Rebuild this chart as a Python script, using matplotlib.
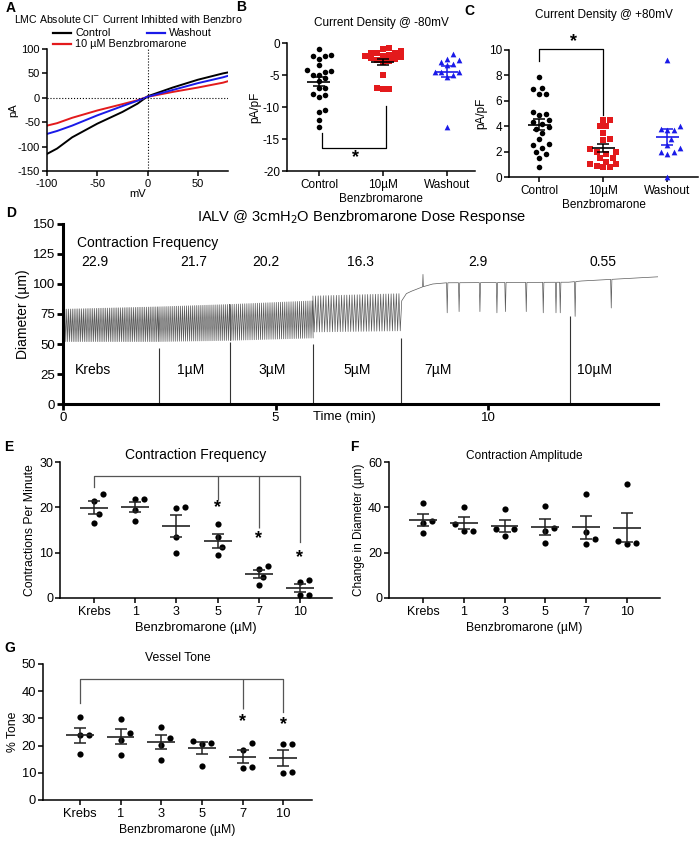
import numpy as np
import matplotlib
matplotlib.use('Agg')
import matplotlib.pyplot as plt
from matplotlib.lines import Line2D

plt.rcParams['font.family'] = ['Liberation Sans', 'DejaVu Sans']
plt.rcParams['axes.unicode_minus'] = False
plt.rcParams['axes.linewidth'] = 1.1
plt.rcParams['xtick.major.width'] = 1.1
plt.rcParams['ytick.major.width'] = 1.1
plt.rcParams['xtick.major.size'] = 3.5
plt.rcParams['ytick.major.size'] = 3.5
plt.rcParams['xtick.major.pad'] = 2
plt.rcParams['ytick.major.pad'] = 1.5

W, H = 699, 842
RED = '#e31a1c'
BLUE = '#1a1ae8'

# ---------------- data ----------------
# A: I-V relationship
iv_mv = [-100, -90, -75, -50, -25, -10, 0, 25, 50, 75, 80]
iv_control = [-115, -104, -81, -53, -29, -12, 3, 21, 37, 50, 52]
iv_washout = [-74, -68, -57, -36, -17, -6, 2, 16, 30, 42, 45]
iv_benz = [-57, -52, -41, -26, -13, -5, 2, 12, 21, 31, 34]

# B / C: current density groups
groups_bc = ['Control', '10µM', 'Washout']
cd80_neg_control = [-1.0, -2.0, -2.0, -1.8, -2.5, -3.5, -4.2, -4.3, -4.5, -5.0, -5.0,
                    -5.5, -6.0, -7.0, -7.0, -8.0, -8.2, -8.5, -10.5, -10.8, -12.0, -13.2]
cd80_neg_benz = [-0.8, -1.0, -1.2, -1.5, -1.5, -1.8, -2.0, -2.0, -2.2, -2.5, -2.3,
                 -1.6, -2.8, -3.0, -2.7, -5.0, -7.0, -7.2, -7.2]
cd80_neg_wash = [-1.7, -2.5, -2.7, -3.0, -3.3, -3.5, -4.5, -4.5, -4.5, -5.0, -5.3, -13.2]
cd80_pos_control = [7.85, 7.0, 6.9, 6.5, 6.5, 5.1, 5.0, 4.9, 4.5, 4.3, 4.2, 3.9,
                    3.8, 3.5, 3.0, 2.6, 2.5, 2.3, 2.0, 1.8, 1.5, 0.8]
cd80_pos_benz = [4.5, 4.5, 4.0, 4.0, 3.5, 3.0, 2.9, 2.2, 2.0, 2.0, 1.8, 1.5,
                 1.5, 1.2, 1.0, 1.0, 0.9, 0.8, 0.8]
cd80_pos_wash = [9.2, 4.0, 3.8, 3.7, 3.7, 3.0, 2.5, 2.3, 2.0, 2.0, 1.8, 0.0]

# D: diameter trace
seg_start = [0.0, 2.26, 3.93, 5.88]
seg_end = [2.26, 3.93, 5.88, 7.95]
seg_top = [(79, 81), (81, 83), (83, 86), (90, 92)]
seg_bottom = [(52, 52), (52, 53), (53, 55), (60, 61)]
freq_values = [22.9, 21.7, 20.2, 16.3, 2.9, 0.55]
freq_label_t = [0.75, 3.08, 4.77, 7.0, 9.76, 12.7]
base_t = [7.97, 8.08, 8.2, 8.45, 8.7, 9.0, 11.9, 12.2, 14.0]
base_y = [86, 92, 94, 97.5, 100, 101, 101.5, 102.5, 106]
dip_t = [9.04, 9.32, 9.81, 10.21, 10.41, 10.9, 11.3, 11.6, 11.7, 12.05, 12.9]
dip_y = [76, 77, 77, 76, 77, 77, 76, 76, 76, 73, 80]
dose_labels = ['Krebs', '1µM', '3µM', '5µM', '7µM', '10µM']
dose_label_t = [0.28, 2.68, 4.6, 6.6, 8.5, 12.1]
dose_t = [2.26, 3.93, 5.88, 7.95, 11.93]
dose_line_top = [47, 52, 50, 55, 73]

# E / F / G: dose response
doses = ['Krebs', '1', '3', '5', '7', '10']
freq = [[22.9, 21.5, 18.5, 16.6], [21.8, 21.8, 19.5, 17.0], [19.8, 20.1, 13.5, 10.0],
        [16.3, 13.5, 11.2, 9.4], [7.1, 6.5, 4.7, 2.9], [4.0, 3.6, 0.7, 0.7]]
ampl = [[42.0, 34.0, 33.3, 28.7], [40.3, 32.6, 29.6, 29.6], [39.3, 30.4, 30.4, 27.3],
        [40.7, 31.1, 29.6, 24.3], [45.8, 28.9, 26.2, 23.7], [50.2, 25.2, 24.0, 24.4]]
tone = [[30.6, 23.9, 23.9, 16.9], [29.7, 24.8, 22.0, 16.4], [27.0, 22.7, 20.2, 14.7],
        [21.1, 20.5, 21.8, 12.6], [21.1, 18.4, 11.9, 12.3], [20.6, 20.6, 9.8, 10.4]]

fig = plt.figure(figsize=(W / 100, H / 100), dpi=100)


def add_ax(l, t, r, b):
    ax = fig.add_axes([l / W, 1 - b / H, (r - l) / W, (b - t) / H])
    ax.spines['top'].set_visible(False)
    ax.spines['right'].set_visible(False)
    return ax


def swarm_x(vals, xc, xpx, ypx, diam, max_off=18):
    # simple beeswarm in pixel space, offsets limited to +-max_off px
    xs = np.full(len(vals), float(xc))
    placed = []
    cands = [0.0]
    k = 1
    while k * diam / 2 <= max_off:
        cands += [k * diam / 2, -k * diam / 2]
        k += 1
    for i in np.argsort(vals):
        y = vals[i] * ypx
        best, best_d = 0.0, -1
        for c in cands:
            d = min([np.hypot(c - px, y - py) for px, py in placed] or [1e9])
            if d >= diam:
                best = c
                break
            if d > best_d:
                best, best_d = c, d
        placed.append((best, y))
        xs[i] = xc + best / xpx
    return xs


def scatter_group(ax, vals, xc, xpx, ypx, diam, marker, color, ms, mean_hw, cap_pt, lcolor, max_off=18):
    xs = swarm_x(vals, xc, xpx, ypx, diam, max_off)
    ax.scatter(xs, vals, marker=marker, s=ms, color=color, zorder=3, linewidths=0, clip_on=False)
    m = np.mean(vals)
    sem = np.std(vals, ddof=1) / np.sqrt(len(vals))
    ax.hlines(m, xc - mean_hw, xc + mean_hw, color=lcolor, lw=1.2, zorder=4)
    ax.errorbar([xc], [m], yerr=[sem], fmt='none', ecolor=lcolor, elinewidth=1.1,
                capsize=cap_pt, capthick=1.1, zorder=4)


def star(ax, x, y, size=13):
    ax.text(x, y, '*', ha='center', va='center', fontsize=size, fontweight='bold', clip_on=False)


def fig_line(x0, x1, y, color):
    fig.add_artist(Line2D([x0 / W, x1 / W], [1 - y / H, 1 - y / H], color=color, lw=1.6,
                          transform=fig.transFigure))


# ---------------- A ----------------
axA = add_ax(47, 49, 228, 171)
axA.plot(iv_mv, iv_control, color='k', lw=1.4)
axA.plot(iv_mv, iv_benz, color=RED, lw=1.4)
axA.plot(iv_mv, iv_washout, color=BLUE, lw=1.4)
axA.axhline(0, color='k', ls=':', lw=0.8)
axA.axvline(0, color='k', ls=':', lw=0.8)
axA.set_xlim(-100, 80)
axA.set_ylim(-150, 100)
axA.set_xticks([-100, -50, 0, 50])
axA.set_yticks(range(-150, 101, 50))
axA.tick_params(labelsize=8)
axA.set_xlabel('mV', fontsize=8, labelpad=0)
axA.set_ylabel('pA', fontsize=8, labelpad=0)
# legend (GraphPad-style, staggered)
for (x0, y, lab, col) in [(53, 33, 'Control', 'k'), (147, 33, 'Washout', BLUE),
                          (53, 44, '10 µM Benzbromarone', RED)]:
    fig_line(x0, x0 + 18, y, col)
    fig.text((x0 + 22) / W, 1 - y / H, lab, fontsize=7.8, ha='left', va='center')
fig.text(14 / W, 1 - 19 / H, 'LMC Absolute Cl$^{-}$ Current Inhibted with Benzbro', fontsize=7.6,
         va='center', ha='left')

# ---------------- B ----------------
axB = add_ax(287, 43, 475, 171)
bpx, bpy = 64, 128 / 20
scatter_group(axB, cd80_neg_control, 0, bpx, bpy, 6, 'o', 'k', 16, 0.18, 4.5, 'k')
scatter_group(axB, cd80_neg_benz, 1, bpx, bpy, 6, 's', RED, 15, 0.18, 4.5, 'k')
scatter_group(axB, cd80_neg_wash, 2, bpx, bpy, 6, '^', BLUE, 17, 0.18, 4.5, BLUE)
axB.set_xlim(-0.5, 2.44)
axB.set_ylim(-20, 0)
axB.set_yticks([0, -5, -10, -15, -20])
axB.set_xticks(range(3))
axB.set_xticklabels(groups_bc)
axB.tick_params(labelsize=8.5)
axB.set_ylabel('pA/pF', fontsize=8.5, labelpad=1)
axB.set_xlabel('Benzbromarone', fontsize=8.5, labelpad=2)
axB.set_title('Current Density @ -80mV', fontsize=8.5, pad=12)
axB.plot([0.05, 0.05, 1.05, 1.05], [-14.1, -16.4, -16.4, -9.8], color='k', lw=0.9)
star(axB, 0.57, -17.9)

# ---------------- C ----------------
axC = add_ax(509, 50, 698, 177)
cpx, cpy = 64, 127 / 10
scatter_group(axC, cd80_pos_control, 0, cpx, cpy, 6.5, 'o', 'k', 16, 0.18, 4.5, 'k')
scatter_group(axC, cd80_pos_benz, 1, cpx, cpy, 6.5, 's', RED, 15, 0.18, 4.5, 'k')
scatter_group(axC, cd80_pos_wash, 2, cpx, cpy, 6.5, '^', BLUE, 17, 0.18, 4.5, BLUE)
axC.set_xlim(-0.47, 2.48)
axC.set_ylim(0, 10)
axC.set_yticks(range(0, 11, 2))
axC.set_xticks(range(3))
axC.set_xticklabels(groups_bc)
axC.tick_params(labelsize=8.5)
axC.set_ylabel('pA/pF', fontsize=8.5, labelpad=1)
axC.set_xlabel('Benzbromarone', fontsize=8.5, labelpad=2)
axC.set_title('Current Density @ +80mV', fontsize=8.5, pad=23)
axC.plot([0, 0, 1, 1], [9.1, 10.05, 10.05, 4.9], color='k', lw=0.9, clip_on=False)
star(axC, 0.53, 10.7)

# ---------------- D ----------------
axD = add_ax(63, 224, 658, 404)
for s in ['left', 'bottom']:
    axD.spines[s].set_linewidth(2.2)
axD.tick_params(width=2.0, length=4, labelsize=9.5)

tt, yy = [], []
for s, e, f, (t0, t1), (b0, b1) in zip(seg_start, seg_end, freq_values[:4], seg_top, seg_bottom):
    tk = np.arange(s, e, 1.0 / f)
    frac = (tk - s) / (e - s)
    half = 0.5 / f
    for t, a, b in zip(tk, t0 + (t1 - t0) * frac, b0 + (b1 - b0) * frac):
        tt += [t, t + half]
        yy += [a, b]
post_t = list(base_t)
post_y = list(base_y)
for t, d in zip(dip_t, dip_y):
    b = np.interp([t - 0.015, t + 0.015], base_t, base_y)
    post_t += [t - 0.015, t, t + 0.015]
    post_y += [b[0], d, b[1]]
b = np.interp([8.46, 8.48], base_t, base_y)
post_t += [8.46, 8.47, 8.48]
post_y += [b[0], 108, b[1]]
order = np.argsort(post_t)
tt += list(np.array(post_t)[order])
yy += list(np.array(post_y)[order])
axD.plot(tt, yy, color='#5a5a5a', lw=0.5)
axD.vlines(dose_t, 0, dose_line_top, color='#333333', lw=0.8)
for lab, t in zip(dose_labels, dose_label_t):
    axD.text(t, 28, lab, fontsize=10, ha='left', va='center')
axD.text(0.33, 134, 'Contraction Frequency', fontsize=10, ha='left', va='center')
for v, t in zip(freq_values, freq_label_t):
    axD.text(t, 118, f'{v:g}', fontsize=10, ha='center', va='center')
axD.set_xlim(0, 14)
axD.set_ylim(0, 150)
axD.set_yticks(range(0, 151, 25))
axD.set_xticks([0, 5, 10])
axD.set_ylabel('Diameter (µm)', fontsize=10, labelpad=2)
axD.text(5.88, -10.5, 'Time (min)', fontsize=9.5, ha='left', va='center', clip_on=False)
fig.text(361 / W, 1 - 217 / H, 'IALV @ 3cmH$_2$O Benzbromarone Dose Response', fontsize=10.5,
         ha='center', va='center')


# ---------------- E / F / G ----------------
def dose_panel(rect, data, ylim, yticks, xlim, ypx, title, tfs, ylabel, ylfs, tickfs, xlfs):
    ax = add_ax(*rect)
    xpx = (rect[2] - rect[0]) / (xlim[1] - xlim[0])
    for i, vals in enumerate(data):
        scatter_group(ax, vals, i, xpx, ypx, 9, 'o', 'k', 20, 0.34, 4.5, '#222222')
    ax.set_xlim(*xlim)
    ax.set_ylim(*ylim)
    ax.set_yticks(yticks)
    ax.set_xticks(range(len(doses)))
    ax.set_xticklabels(doses)
    ax.tick_params(labelsize=tickfs)
    ax.set_ylabel(ylabel, fontsize=ylfs, labelpad=2)
    ax.set_xlabel('Benzbromarone (µM)', fontsize=xlfs, labelpad=3)
    ax.set_title(title, fontsize=tfs, pad=-6)
    return ax


axE = dose_panel((60, 462, 332, 598), freq, (0, 30), [0, 10, 20, 30], (-0.83, 5.78), 136 / 30,
                 'Contraction Frequency', 10, 'Contractions Per Minute', 8.8, 9, 9.3)
axE.plot([0, 0, 5, 5], [24.5, 26.9, 26.9, 12.4], color='#555555', lw=0.9)
axE.vlines([3, 4], [21.6, 15.4], 26.9, color='#555555', lw=0.9)
for x, y in zip([3, 4, 5], [20.0, 13.2, 9.0]):
    star(axE, x, y)

axF = dose_panel((389, 462, 660, 598), ampl, (0, 60), [0, 20, 40, 60], (-0.83, 5.81), 136 / 60,
                 'Contraction Amplitude', 8.6, 'Change in Diameter (µm)', 8.5, 9, 8.8)

axG = dose_panel((43, 664, 312, 800), tone, (0, 50), range(0, 51, 10), (-0.91, 5.71), 136 / 50,
                 'Vessel Tone', 8.8, '% Tone', 8.8, 9.3, 8.8)
axG.plot([0, 0, 5, 5], [35.5, 44.4, 44.4, 32.5], color='#555555', lw=0.9)
axG.vlines([4], [33.3], 44.4, color='#555555', lw=0.9)
for x, y in zip([4, 5], [28.8, 27.6]):
    star(axG, x, y)

# panel letters
for lab, x, y in [('A', 6, 8), ('B', 236, 7), ('C', 464, 11), ('D', 6, 213),
                  ('E', 4, 447), ('F', 350, 447), ('G', 4, 648)]:
    fig.text(x / W, 1 - y / H, lab, fontsize=10, fontweight='bold', ha='left', va='center')

fig.savefig('out.png', dpi=100)
